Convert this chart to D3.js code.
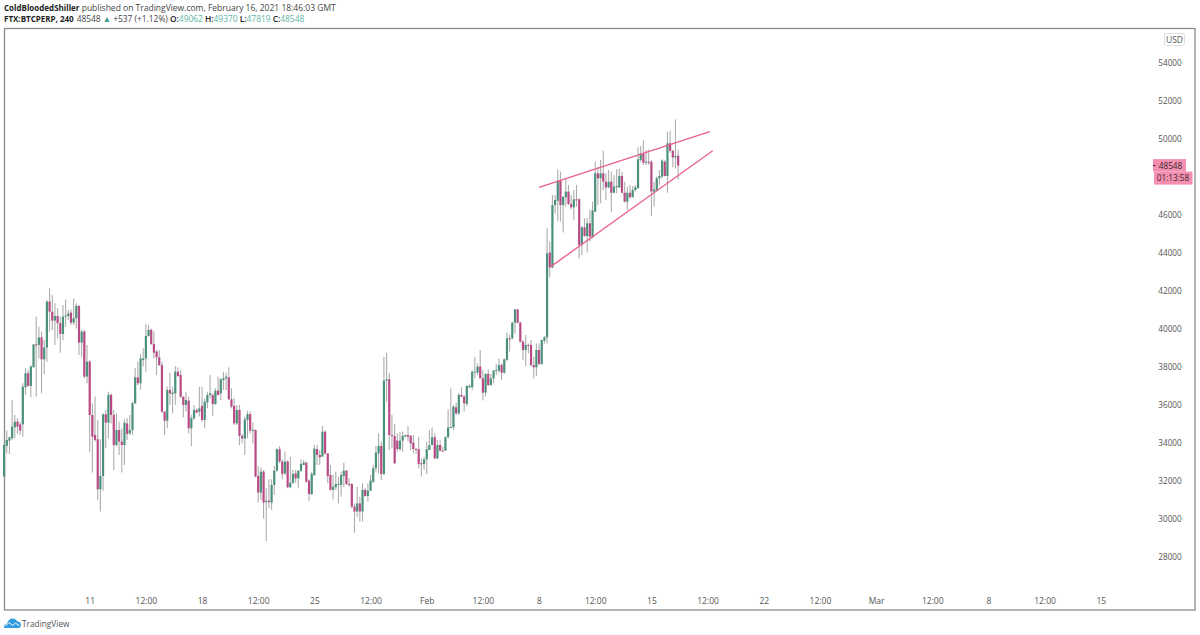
<!DOCTYPE html>
<html>
<head>
<meta charset="utf-8">
<script src="https://d3js.org/d3.v7.min.js"></script>
<style>
html, body { margin: 0; padding: 0; background: #fff; }
svg { display: block; }
text { font-family: "Open Sans", sans-serif; }
</style>
</head>
<body>
<script>
// 4h bars, first one sits 32 bars before Jan 11 00:00
var opens = [
32180,33790,34070,34200,34770,35070,34930,34930,36880,37620,
36950,37930,39140,39110,39510,38350,38970,41390,40860,40390,
40630,40250,39690,40600,40630,40810,40280,40510,41160,39230,
39810,37440,38230,35420,34370,34140,31510,32210,35460,35020,
36480,35420,33840,34630,34020,33840,34980,34460,34630,36040,
37400,37090,38320,38400,39580,39900,39160,38760,38460,38050,
35600,35120,36740,36530,36560,37700,37530,36390,35950,36180,
34720,35250,35690,35600,35900,35160,36090,36470,36470,36000,
36700,36560,37260,37350,37400,36250,35900,34980,35690,34320,
34180,35160,35470,34600,34630,32210,31340,32440,30840,30910,
30810,31740,32490,33620,32970,32350,32970,31620,31860,32350,
32090,32490,32790,32910,31970,31260,32260,33620,33320,33230,
34540,33400,32260,31480,31620,31790,31740,32210,32490,31790,
31790,30600,30340,30770,30340,31480,31160,31440,31910,32620,
33400,33790,32320,37230,37300,34370,34320,34070,33620,34070,
34280,34370,34320,33970,33630,33620,32880,32840,33090,33580,
33840,34250,33140,33840,33550,33550,34250,34770,34770,35830,
35510,36480,36390,36000,36880,36880,37650,37650,37970,37350,
36600,37580,37000,37350,37760,37760,38050,37650,38320,39460,
39460,40280,40980,40280,39280,38840,39110,39110,38050,37930,
38840,38110,39330,39510,43970,43190,46470,46700,47760,46470,
46880,47180,46530,46350,46770,46770,44420,45300,44840,45510,
44770,46120,48140,47880,48140,47700,47400,47700,47120,47440,
47400,48000,47120,46650,47120,46880,47260,47350,48840,49190,
48700,48750,48750,47180,47260,47880,47970,48750,48000,49720,
49330,48980,49062];

var highs = [
33840,34600,34280,36210,35420,35250,35070,37090,37880,37790,
38050,39140,40600,40070,39810,39370,41470,42090,41740,41300,
41040,40600,41210,41510,40950,40980,41560,41300,41210,39900,
39900,39110,38320,36040,36390,35160,34140,35510,35690,36650,
36560,35690,35510,35070,34720,35190,35250,35420,36120,37880,
38230,38630,38930,40210,40160,39980,39810,38840,38840,38230,
35600,36910,37650,36910,38000,37930,37790,36390,36650,36390,
35420,35950,35770,36910,36910,36300,36650,37530,36560,36830,
37440,37350,37700,37650,37930,36830,36300,35950,35950,34420,
35330,35650,35600,35020,34670,32740,32670,32530,31560,32040,
32040,32740,33670,33790,33090,33490,33050,33230,32530,32530,
32530,33090,33050,32970,32040,32440,33840,33840,33580,34840,
34630,33400,32790,32260,32440,32180,32440,32910,32530,32090,
31830,30770,31650,31120,31830,31560,31830,32260,32790,33790,
34460,34020,38490,38700,37650,35420,34950,34460,34550,34550,
34410,34840,34370,34370,33700,34280,33140,33230,34020,34630,
34770,34460,34110,34110,33760,34320,35720,36830,35950,36070,
36560,36880,36480,37000,37050,37760,38490,38140,38840,37790,
37620,37830,37580,37790,38110,38410,38140,38410,39760,39630,
40330,41000,41000,40330,39370,39630,39190,39370,38490,39190,
39190,39370,39580,45250,44550,47000,47000,48350,48230,46910,
47880,47530,47000,47260,47530,46830,45370,45770,45770,46210,
46650,48750,48490,48840,49330,48140,48320,48230,48050,48350,
48400,48230,47700,47440,47530,47470,47530,49510,49580,49890,
49370,49400,48840,47700,47970,48320,48880,48840,50330,50390,
49370,50980,49370];

var lows = [
32180,33410,33370,34100,34200,34420,34370,34280,36480,36910,
36350,37930,36390,38400,36560,37580,38230,39810,39900,39110,
39460,38700,39370,40070,40420,40160,40160,39980,38580,38460,
37350,37090,33490,32390,34020,30950,30340,31440,33670,34200,
34980,32530,33790,33320,32390,32790,34110,34370,34370,36000,
37000,36740,37970,37700,39540,39110,38400,37530,38000,35510,
34370,34720,35950,35510,35950,37440,36300,35300,35600,34460,
33790,35160,35510,35340,35070,34720,35770,36300,35370,35950,
36470,36210,36740,36740,36210,35770,34900,34900,33840,33930,
33320,34190,34460,33930,32140,30810,30950,29980,28790,30510,
30420,31210,32440,32880,32040,32260,31560,31560,31790,31860,
31560,32440,32790,31860,30910,31210,32210,32790,32790,33230,
33320,31830,31440,30980,31480,30770,31120,31650,31740,31650,
30510,29230,30070,29810,29810,31120,30860,31390,31830,32440,
32350,32000,32260,36120,33580,33670,32840,33490,33550,33490,
34280,34020,33580,33410,33400,32620,32180,32530,32320,33580,
33840,33090,33090,33490,33490,33550,34200,34720,34630,35420,
35420,36350,35600,35900,36830,36740,37350,37530,37350,36180,
36390,36950,36950,37090,37530,37650,37260,37580,38280,38760,
39400,39720,40250,39230,38320,38000,38670,37970,37350,37480,
38050,38050,39190,39190,42670,43140,46040,45600,45600,45020,
46390,46470,46250,45690,46390,43670,43840,44810,43970,44550,
44720,46120,46470,46560,47260,46740,47350,46120,47090,47090,
47350,47090,46600,46210,46830,46880,47180,47350,48750,48580,
48580,48580,45900,46390,47180,47530,47880,47970,47120,49230,
48460,48400,47819];

var closes = [
33840,34110,34250,34810,35070,34810,34600,36910,37620,36950,
37970,39140,39110,39510,38350,38970,41390,40860,40390,40630,
40250,39690,40600,40650,40770,40280,40510,41160,39230,39810,
37440,38230,35420,34280,34110,31510,32210,35460,35020,36480,
35420,33840,34630,34020,33840,35020,34420,34630,36040,37400,
37090,38400,38400,39580,39900,39160,38700,38460,38050,35600,
35120,36740,36560,36600,37700,37470,36390,35950,36210,34720,
35250,35690,35550,35770,35160,36120,36470,36560,36000,36700,
36470,37300,37350,37440,36250,35860,34980,35690,34320,34180,
35190,35470,34600,34630,32180,31340,32440,30810,30910,30840,
31740,32490,33620,32970,32320,32970,31620,31860,32320,32090,
32490,32840,32910,31910,31260,32320,33650,33320,33190,34540,
33400,32210,31480,31650,31790,31800,32260,32490,31790,31740,
30600,30340,30770,30340,31480,31160,31440,31970,32620,33440,
33790,32320,37230,37300,34370,34320,32880,33630,34070,34320,
34350,34280,33930,33630,33620,32840,32840,33090,33620,33840,
34250,33140,33840,33550,33530,34250,34770,34790,35860,35510,
36480,36390,36040,36950,36950,37700,37700,37970,37350,36600,
37580,37000,37350,37760,37790,38050,37650,38350,39460,39400,
40280,40980,40280,39280,38840,39110,39090,38050,37930,38840,
38110,39370,39510,43930,43190,46470,46740,47760,46470,46910,
47180,46530,46350,46770,46740,44370,45300,44840,45510,44810,
46180,48140,47880,48140,47700,47400,47700,47120,47440,47470,
48000,47120,46650,47120,46880,47260,47400,48880,49190,48700,
48750,48720,47180,47300,47880,48000,48810,48000,49720,49330,
48980,49050,48548];

// 48000 is covered by the countdown label in the chart
var priceTicks = [28000,30000,32000,34000,36000,38000,40000,42000,44000,46000,50000,52000,54000];
var timeTicks = ["2021-01-11T00:00Z","2021-01-14T12:00Z","2021-01-18T00:00Z","2021-01-21T12:00Z","2021-01-25T00:00Z",
	"2021-01-28T12:00Z","2021-02-01T00:00Z","2021-02-04T12:00Z","2021-02-08T00:00Z","2021-02-11T12:00Z",
	"2021-02-15T00:00Z","2021-02-18T12:00Z","2021-02-22T00:00Z","2021-02-25T12:00Z","2021-03-01T00:00Z",
	"2021-03-04T12:00Z","2021-03-08T00:00Z","2021-03-11T12:00Z","2021-03-15T00:00Z"];
var timeLabels = ["11","12:00","18","12:00","25","12:00","Feb","12:00","8","12:00","15","12:00","22","12:00","Mar","12:00","8","12:00","15"];

// trend lines of the wedge: [time, price] pairs
var upperLine = [["2021-02-08T00:00Z",47400],["2021-02-18T15:20Z",50330]];
var lowerLine = [["2021-02-08T17:30Z",43230],["2021-02-18T19:40Z",49330]];

var w = 1200, h = 635;
var green = "#4c917c", pink = "#b84a85", wick = "#adadad", labelPink = "#f48fb1";

var svg = d3.select("body").append("svg")
	.attr("width", w)
	.attr("height", h);

var firstBar = new Date("2021-01-11T00:00Z").getTime() - 32 * 4 * 3600000;
function barTime(i) { return new Date(firstBar + i * 4 * 3600000); }

var x = d3.scaleUtc()
	.domain([new Date("2021-01-11T00:00Z"), new Date("2021-02-15T00:00Z")])
	.range([89.7, 651.4]);
var y = d3.scaleLinear()
	.domain([28000, 54000])
	.range([556, 62]);

// frame
svg.append("rect")
	.attr("x", 4.5).attr("y", 28.5)
	.attr("width", 1190.5).attr("height", 581.5)
	.attr("fill", "none")
	.attr("stroke", "#8a8a8a")
	.attr("stroke-width", 1.3);

// wicks
svg.append("g").selectAll("line")
	.data(closes)
	.enter().append("line")
	.attr("x1", function(d, i) { return x(barTime(i)); })
	.attr("x2", function(d, i) { return x(barTime(i)); })
	.attr("y1", function(d, i) { return y(highs[i]); })
	.attr("y2", function(d, i) { return y(lows[i]); })
	.attr("stroke", wick)
	.attr("stroke-width", 1.1);

// bodies
svg.append("g").selectAll("rect")
	.data(closes)
	.enter().append("rect")
	.attr("x", function(d, i) { return x(barTime(i)) - 1.1; })
	.attr("width", 2.2)
	.attr("y", function(d, i) { return y(Math.max(opens[i], d)); })
	.attr("height", function(d, i) { return Math.max(1, Math.abs(y(opens[i]) - y(d))); })
	.attr("fill", function(d, i) { return d >= opens[i] ? green : pink; });

// wedge
var trend = d3.line()
	.x(function(d) { return x(new Date(d[0])); })
	.y(function(d) { return y(d[1]); });
svg.selectAll("path.trend")
	.data([upperLine, lowerLine])
	.enter().append("path")
	.attr("class", "trend")
	.attr("d", trend)
	.attr("fill", "none")
	.attr("stroke", "#ea5f8f")
	.attr("stroke-width", 1.3);

// axes
var xAxis = d3.axisBottom(x)
	.tickValues(timeTicks.map(function(d) { return new Date(d); }))
	.tickFormat(function(d, i) { return timeLabels[i]; })
	.tickSize(0)
	.tickPadding(0);
var xg = svg.append("g").attr("transform", "translate(0,599)").call(xAxis);
xg.select(".domain").remove();
xg.selectAll("text").attr("font-size", 8.5).attr("fill", "#555").attr("dy", "0.32em").attr("y", 2)
	.style("font-family", "'Open Sans', sans-serif");

var yAxis = d3.axisRight(y)
	.tickValues(priceTicks)
	.tickFormat(d3.format("d"))
	.tickSize(0)
	.tickPadding(0);
var yg = svg.append("g").attr("transform", "translate(1170,0.6)").call(yAxis);
yg.select(".domain").remove();
yg.selectAll("text").attr("font-size", 8.2).attr("fill", "#555").attr("text-anchor", "middle")
	.style("font-family", "'Open Sans', sans-serif");

// USD button
svg.append("rect")
	.attr("x", 1164.5).attr("y", 33.5)
	.attr("width", 20).attr("height", 12).attr("rx", 2)
	.attr("fill", "#fff").attr("stroke", "#dedede");
svg.append("text")
	.attr("x", 1174.5).attr("y", 42.6)
	.attr("text-anchor", "middle")
	.attr("font-size", 8.5).attr("fill", "#555")
	.text("USD");

// last price and countdown
var last = closes[closes.length - 1];
svg.append("rect")
	.attr("x", 1153).attr("y", y(last) - 6.5)
	.attr("width", 33).attr("height", 12.5)
	.attr("fill", labelPink);
svg.append("rect")
	.attr("x", 1154).attr("y", y(last) + 6)
	.attr("width", 38.5).attr("height", 13)
	.attr("fill", labelPink);
svg.append("line")
	.attr("x1", 1153).attr("x2", 1155.5)
	.attr("y1", y(last)).attr("y2", y(last))
	.attr("stroke", "#3a2a30");
svg.append("text")
	.attr("x", 1170.5).attr("y", y(last) + 3)
	.attr("text-anchor", "middle")
	.attr("font-size", 8.2).attr("fill", "#3a2a30")
	.text(last);
svg.append("text")
	.attr("x", 1173).attr("y", y(last) + 15.8)
	.attr("text-anchor", "middle")
	.attr("font-size", 8.2).attr("fill", "#3a2a30")
	.text("01:13:58");

// header
var title = svg.append("text").attr("x", 4).attr("y", 11).attr("font-size", 8.5).attr("fill", "#444");
title.append("tspan").attr("font-weight", 700).attr("font-size", 8).attr("fill", "#222").text("ColdBloodedShiller");
title.append("tspan").text(" published on TradingView.com, February 16, 2021 18:46:03 GMT");

var teal = "#5db5a4";
var info = svg.append("text").attr("x", 4).attr("y", 22).attr("font-size", 8.4).attr("fill", "#444");
info.append("tspan").attr("font-weight", 700).attr("font-size", 8).attr("fill", "#222").text("FTX:BTCPERP, 240");
info.append("tspan").attr("dx", 3).text("48548 ");
info.append("tspan").attr("fill", "#3f9c8c").text("▲");
info.append("tspan").text(" +537 (+1.12%) ");
[["O:", "49062"], ["H:", "49370"], ["L:", "47819"], ["C:", "48548"]].forEach(function(d) {
	info.append("tspan").attr("font-weight", 600).attr("fill", "#222").text(d[0]);
	info.append("tspan").attr("fill", teal).text(d[1] + " ");
});

// logo
var logo = svg.append("g").attr("transform", "translate(4,618)");
logo.append("path")
	.attr("d", "M0,10 C0,7 1.5,6 3,5.5 C4,2.5 6,0.5 8.5,0.5 C11,0.5 12.5,2 13.5,3.5 C15.5,3.5 17,5 17,7 C17,9 16,10 14.5,10 Z")
	.attr("fill", "#2f9bdc");
logo.append("path")
	.attr("d", "M1.5,8 L5,4.5 L8.5,7.5 L11.5,5 L15.5,8")
	.attr("fill", "none")
	.attr("stroke", "#fff")
	.attr("stroke-width", 1);
svg.append("text")
	.attr("x", 22).attr("y", 626.5)
	.attr("font-size", 8.3).attr("fill", "#555")
	.text("TradingView");
</script>
</body>
</html>
